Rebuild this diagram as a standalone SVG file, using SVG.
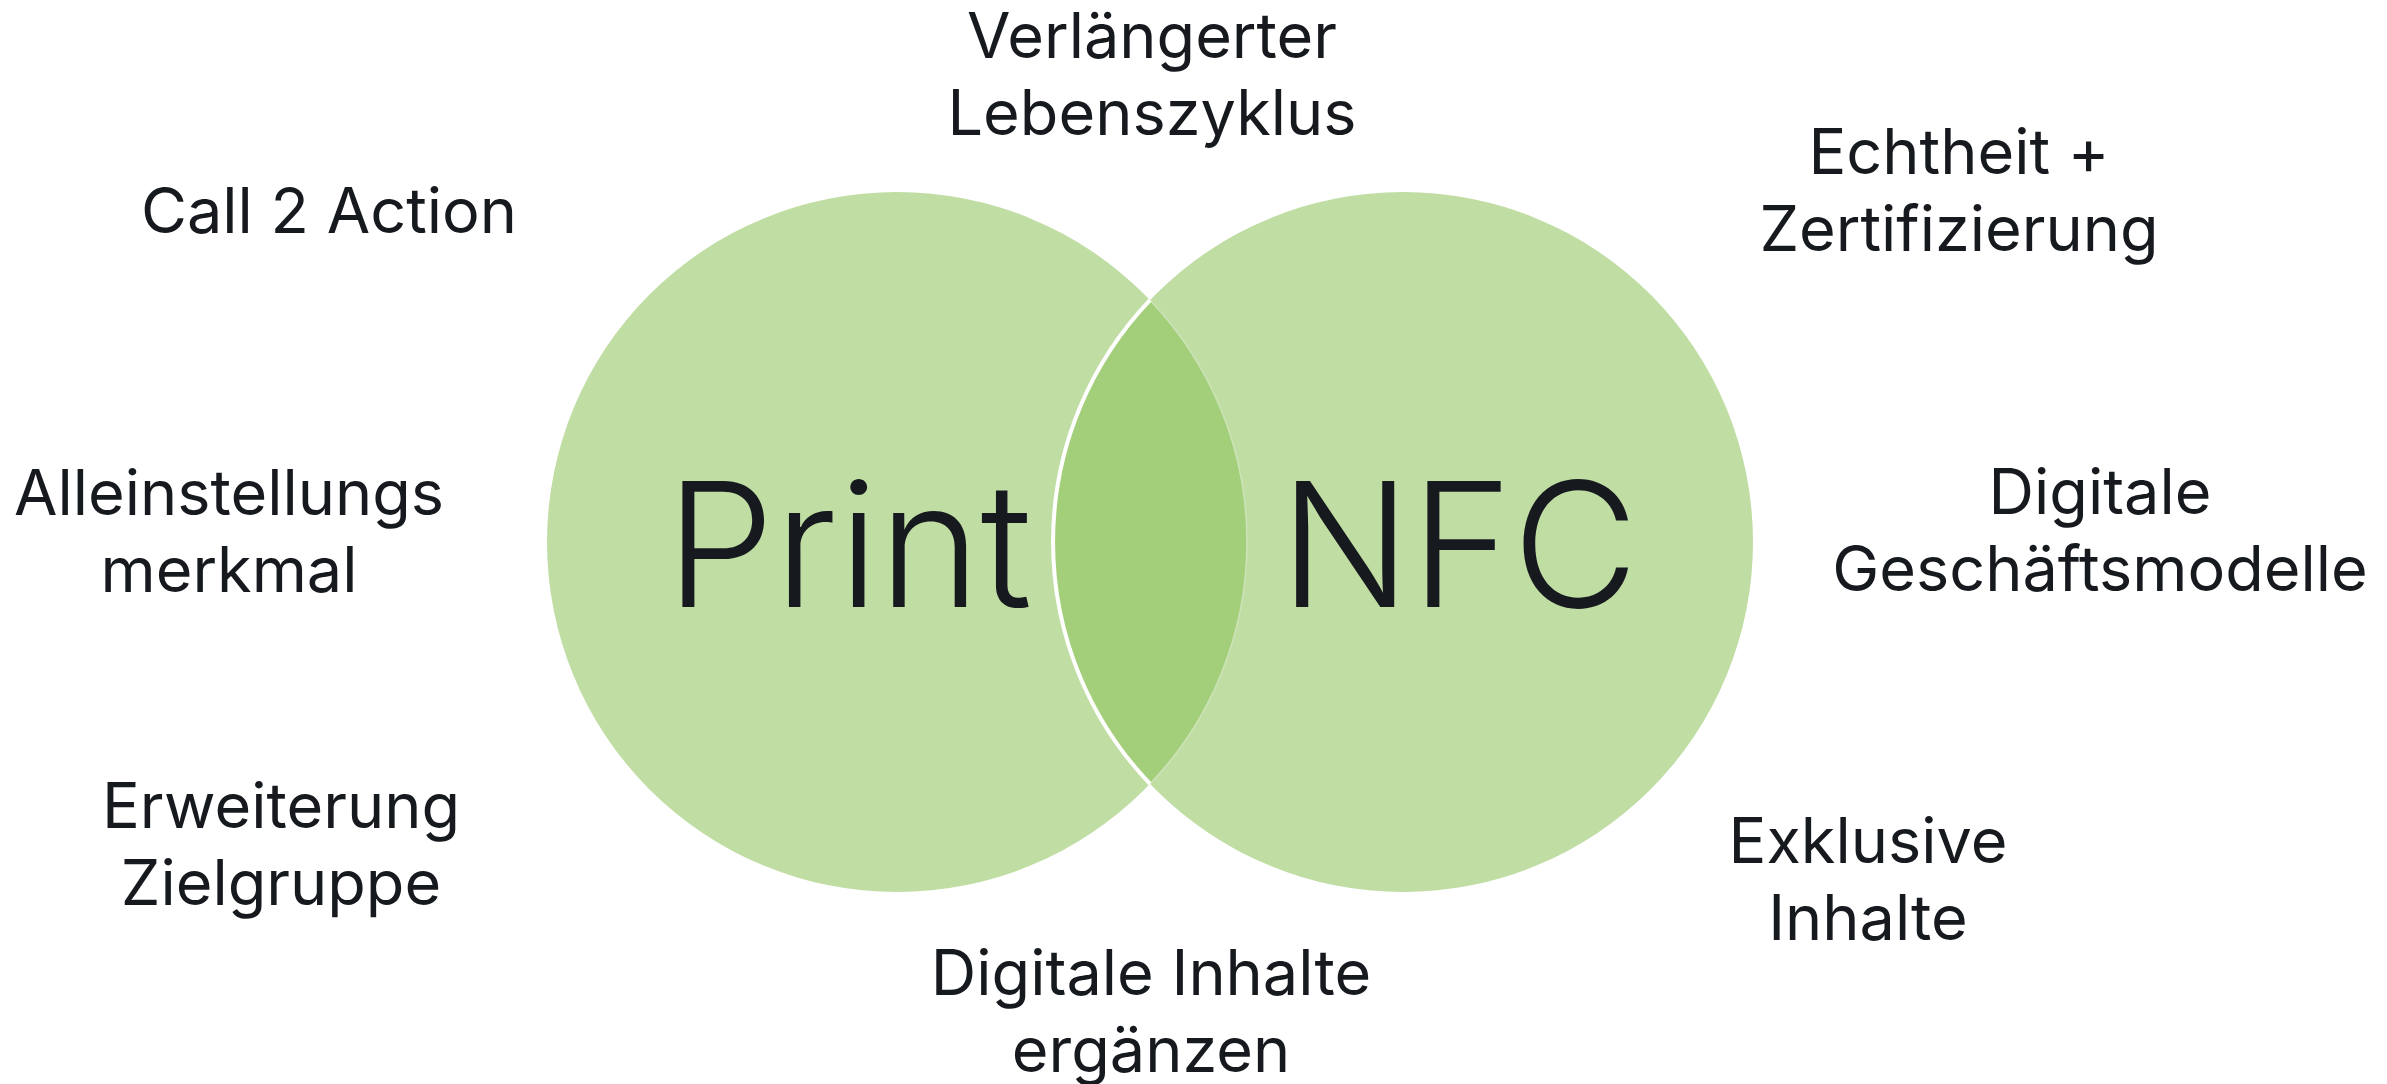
<svg xmlns="http://www.w3.org/2000/svg" width="2387" height="1084" viewBox="0 0 2387 1084">
  <style>
    .circle { fill: #c0dda4; }
    .lens { fill: #a3cf7b; }
    .big { font-family: Inter, "Noto Sans", "Liberation Sans", sans-serif; font-weight: 300; font-size: 173px; fill: #16191d; text-anchor: middle; }
    .lbl { font-family: Inter, "Noto Sans", "Liberation Sans", sans-serif; font-weight: 400; font-size: 63px; fill: #16191d; text-anchor: middle; }
  </style>
  <rect width="2387" height="1084" fill="#ffffff"/>
  <g id="venn">
    <g id="print-circle">
      <circle class="circle" cx="897" cy="542" r="350"/>
    </g>
    <g id="nfc-circle">
      <circle class="circle" cx="1403" cy="542" r="350"/>
    </g>
    <g id="overlap">
      <path class="lens" d="M1150 300.2 A350 350 0 0 1 1150 783.8 A350 350 0 0 1 1150 300.2 Z"/>
      <path d="M1150 300.2 A350 350 0 0 1 1150 783.8" fill="none" stroke="#cde3b8" stroke-width="1.5"/>
      <path d="M1150 783.8 A350 350 0 0 1 1150 300.2" fill="none" stroke="#ffffff" stroke-width="4"/>
    </g>
    <g id="print-label"><text class="big" x="849" y="607">Print</text></g>
    <g id="nfc-label"><text class="big" x="1459" y="607">NFC</text></g>
  </g>
  <g id="connectors"/>
  <g id="label-lebenszyklus">
    <text class="lbl" x="1152" y="58">Verlängerter</text>
    <text class="lbl" x="1152" y="135">Lebenszyklus</text>
  </g>
  <g id="label-call2action">
    <text class="lbl" x="329" y="233">Call 2 Action</text>
  </g>
  <g id="label-echtheit">
    <text class="lbl" x="1959" y="174">Echtheit +</text>
    <text class="lbl" x="1959" y="251">Zertifizierung</text>
  </g>
  <g id="label-alleinstellung">
    <text class="lbl" x="229" y="515">Alleinstellungs</text>
    <text class="lbl" x="229" y="592">merkmal</text>
  </g>
  <g id="label-geschaeftsmodelle">
    <text class="lbl" x="2100" y="514">Digitale</text>
    <text class="lbl" x="2100" y="591">Geschäftsmodelle</text>
  </g>
  <g id="label-zielgruppe">
    <text class="lbl" x="281" y="828">Erweiterung</text>
    <text class="lbl" x="281" y="905">Zielgruppe</text>
  </g>
  <g id="label-exklusiv">
    <text class="lbl" x="1868" y="863">Exklusive</text>
    <text class="lbl" x="1868" y="940">Inhalte</text>
  </g>
  <g id="label-digitale-inhalte">
    <text class="lbl" x="1151" y="995">Digitale Inhalte</text>
    <text class="lbl" x="1151" y="1072">ergänzen</text>
  </g>
</svg>
